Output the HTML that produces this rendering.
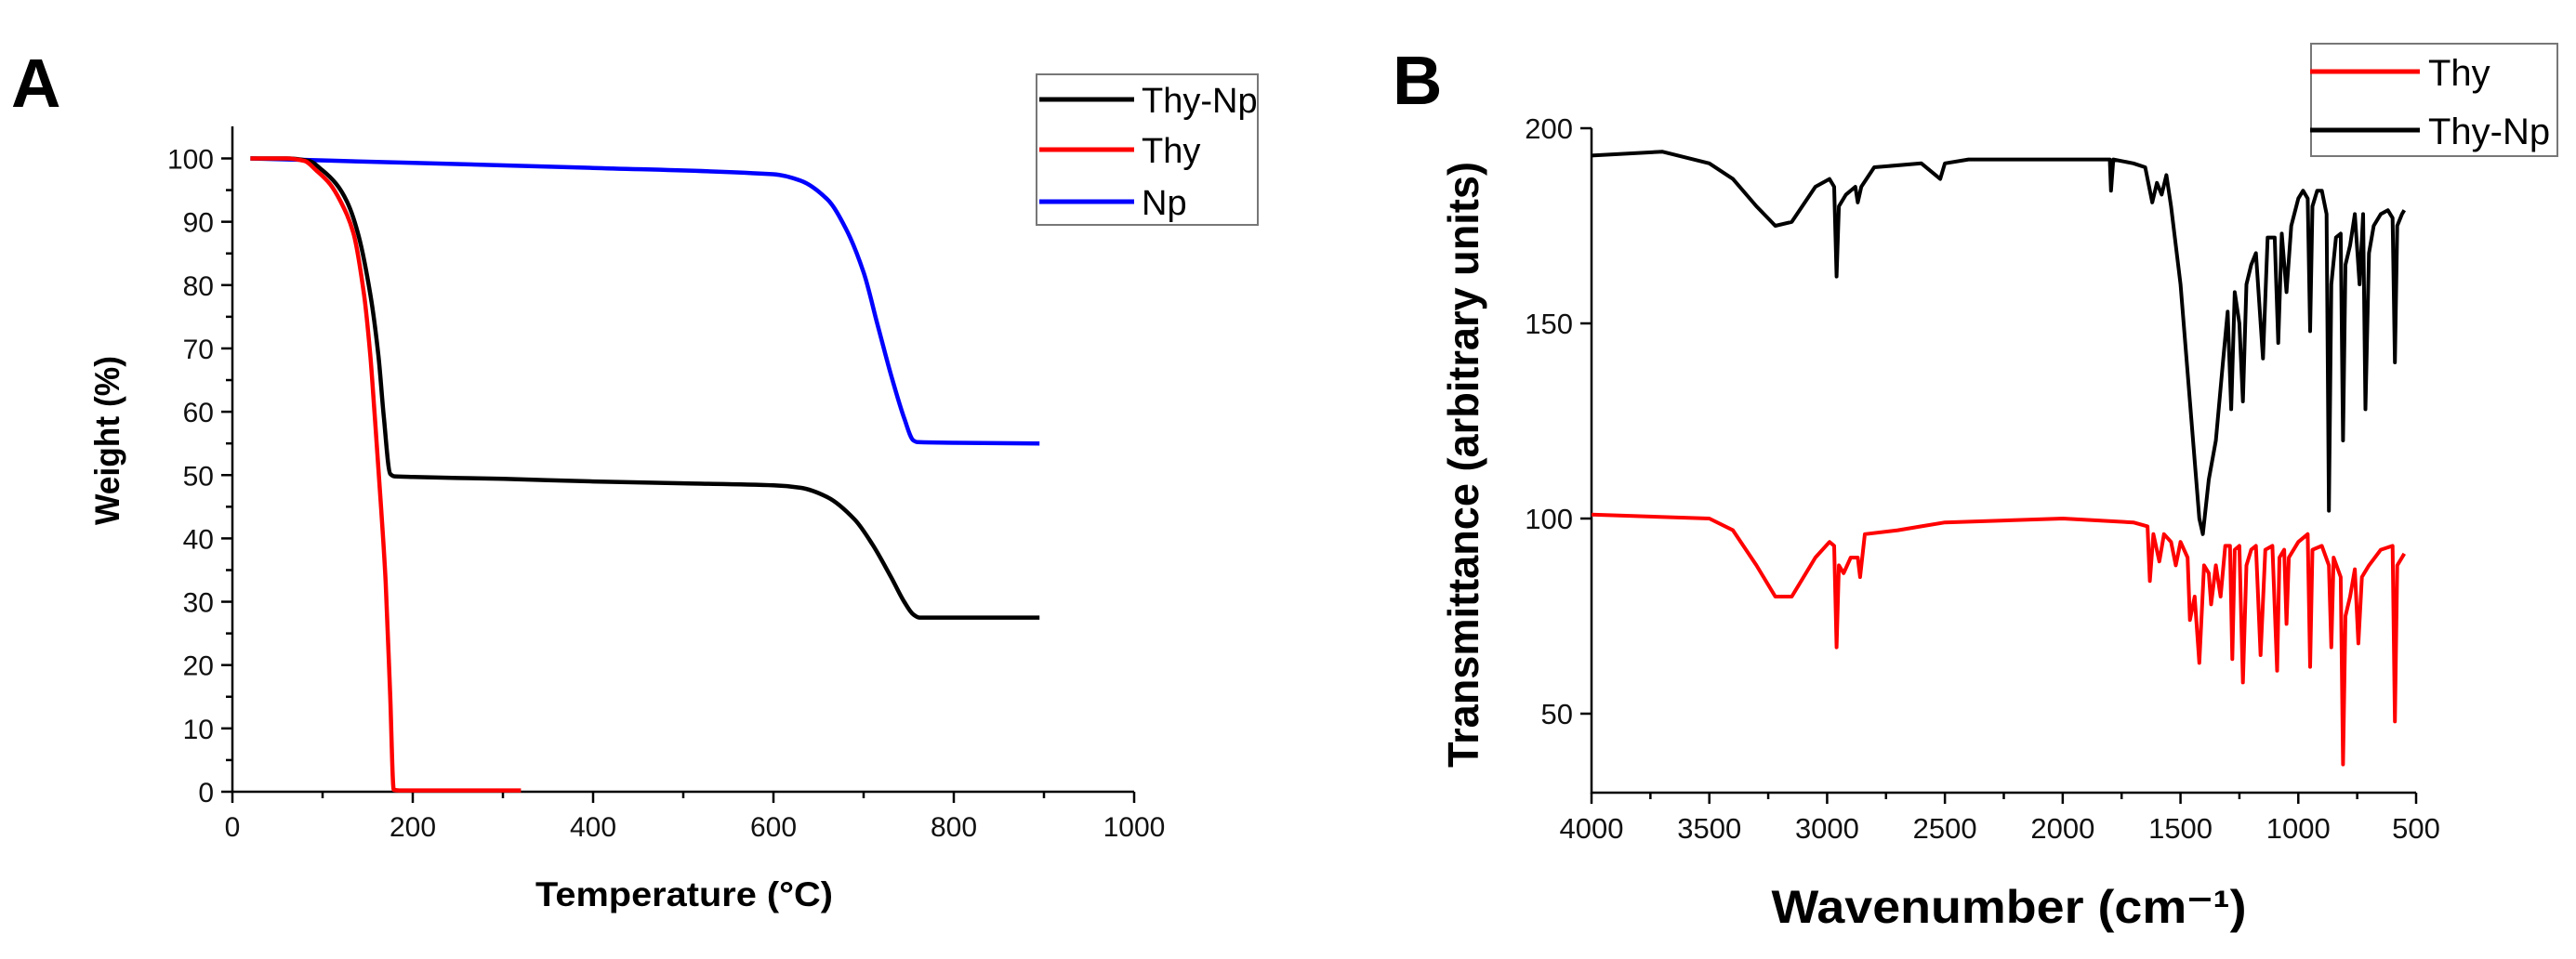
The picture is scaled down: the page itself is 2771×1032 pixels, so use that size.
<!DOCTYPE html>
<html><head><meta charset="utf-8"><style>
html,body{margin:0;padding:0;background:#fff;}
svg{display:block;font-family:"Liberation Sans",sans-serif;}
</style></head><body>
<svg id="fig" width="2771" height="1032" viewBox="0 0 2771 1032" xmlns="http://www.w3.org/2000/svg">
<g id="A"></g>
<g id="B"></g>
</svg>
<script>
// ---- Panel A data (TGA) ----
const tgaTempThyNp = [20,60,85,100,115,127,139,153,162,168,175,180,200,300,400,500,600,630,660,690,710,730,745,755,762,770,895];
const tgaWtThyNp   = [100,100,99.6,98.1,96,93.2,88.3,78.5,68.8,59,50.2,49.8,49.7,49.4,49,48.7,48.4,48,46.5,43,39,34,30,28,27.5,27.5,27.5];
const tgaTempThy = [20,60,80,93,108,120,134,146,153,158,165,170,175,179,185,250,320];
const tgaWtThy   = [100,100,99.6,98.1,96,93.2,88.3,78.5,68.8,59,44.5,33,15,0.3,0.2,0.2,0.2];
const tgaTempNp = [20,200,400,600,630,660,680,700,715,730,745,755,760,800,895];
const tgaWtNp   = [100,99.3,98.5,97.5,96.5,93.5,89,82,74,66,59,55.5,55.2,55.1,55];
const tgaXTicks = [0,200,400,600,800,1000];
const tgaYTicks = [0,10,20,30,40,50,60,70,80,90,100];

// ---- Panel B data (FTIR) ----
const irWnThyNp = [4000,3700,3500,3400,3300,3220,3150,3050,2990,2970,2960,2950,2920,2880,2870,2855,2800,2600,2520,2500,2400,1850,1800,1795,1785,1700,1650,1620,1600,1580,1560,1540,1500,1460,1420,1405,1380,1350,1320,1300,1285,1270,1250,1235,1220,1200,1180,1150,1130,1100,1085,1070,1050,1030,1000,980,960,950,940,920,900,880,870,860,840,820,810,800,780,760,740,725,715,700,680,650,620,600,590,580,560,550];
const irTThyNp  = [193,194,191,187,180,175,176,185,187,185,162,180,183,185,181,185,190,191,187,191,192,192,192,184,192,191,190,181,186,183,188,180,160,130,100,96,110,120,140,153,128,158,150,130,160,165,168,141,172,172,145,173,158,175,182,184,182,148,180,184,184,178,102,160,172,173,120,165,170,178,160,178,128,168,175,178,179,177,140,175,178,179];
const irWnThy = [4000,3500,3400,3300,3220,3150,3050,2990,2970,2960,2950,2930,2900,2870,2860,2840,2700,2600,2500,2000,1700,1640,1630,1615,1590,1570,1540,1520,1500,1470,1460,1440,1420,1400,1380,1370,1350,1330,1310,1290,1280,1270,1250,1235,1220,1200,1180,1160,1140,1110,1090,1080,1060,1050,1040,1000,960,950,940,900,870,860,850,820,810,800,780,760,745,730,700,650,600,590,580,560,550];
const irTThy  = [101,100,97,88,80,80,90,94,93,67,88,86,90,90,85,96,97,98,99,100,99,98,84,96,89,96,94,88,94,90,74,80,63,88,86,78,88,80,93,93,64,92,93,58,88,92,93,65,92,93,61,90,92,73,90,94,96,62,92,93,88,67,90,85,37,75,80,87,68,85,88,92,93,48,88,90,91];
const irXTicks = [4000,3500,3000,2500,2000,1500,1000,500];
const irYTicks = [50,100,150,200];

const NS = "http://www.w3.org/2000/svg";
function mk(parent, tag, attrs, text){
  const e = document.createElementNS(NS, tag);
  for (const k in attrs) e.setAttribute(k, attrs[k]);
  if (text !== undefined) e.textContent = text;
  parent.appendChild(e);
  return e;
}
function pathFrom(xs, ys, sx, sy){
  return xs.map((x,i)=>(i?'L':'M')+sx(x).toFixed(1)+','+sy(ys[i]).toFixed(1)).join(' ');
}
// monotone cubic (Fritsch-Carlson) in pixel space
function smoothPath(xs, ys, sx, sy){
  const X = xs.map(sx), Y = ys.map(sy), n = X.length;
  const d = [], m = new Array(n);
  for (let i=0;i<n-1;i++) d.push((Y[i+1]-Y[i])/(X[i+1]-X[i]));
  m[0]=d[0]; m[n-1]=d[n-2];
  for (let i=1;i<n-1;i++) m[i] = (d[i-1]*d[i]<=0) ? 0 : 2/(1/d[i-1]+1/d[i]);
  let s = 'M'+X[0].toFixed(1)+','+Y[0].toFixed(1);
  for (let i=0;i<n-1;i++){
    const h = X[i+1]-X[i];
    s += ' C'+(X[i]+h/3).toFixed(1)+','+(Y[i]+m[i]*h/3).toFixed(1)+' '+(X[i+1]-h/3).toFixed(1)+','+(Y[i+1]-m[i+1]*h/3).toFixed(1)+' '+X[i+1].toFixed(1)+','+Y[i+1].toFixed(1);
  }
  return s;
}

// ===== Panel A =====
const A = document.getElementById('A');
const ax = v => 250 + (v/1000)*970;
const ay = v => 852 - (v/100)*681.5;
let t;
t = mk(A,'text',{x:12,y:115,'font-size':74,'font-weight':'bold'},'A');
 
let axl = mk(A,'path',{d:`M250,136 L250,852 L1220,852`,stroke:'#000','stroke-width':2.5,fill:'none'});
 
for (let v=0; v<=1000; v+=100){
  const major = tgaXTicks.includes(v);
  const l = mk(A,'line',{x1:ax(v),x2:ax(v),y1:852,y2:852+(major?12:7),stroke:'#000','stroke-width':2.5});
   
}
tgaXTicks.forEach(v=>{
  const e = mk(A,'text',{x:ax(v),y:900,'font-size':30,'text-anchor':'middle',fill:'#111'},String(v));
   
});
for (let v=0; v<=100; v+=5){
  const major = v%10===0;
  const l = mk(A,'line',{x1:250-(major?12:7),x2:250,y1:ay(v),y2:ay(v),stroke:'#000','stroke-width':2.5});
   
}
tgaYTicks.forEach(v=>{
  const e = mk(A,'text',{x:230,y:ay(v)+11,'font-size':30,'text-anchor':'end',fill:'#111'},String(v));
   
});
t = mk(A,'text',{x:736,y:975,'font-size':37,'font-weight':'bold','text-anchor':'middle',textLength:320,lengthAdjust:'spacingAndGlyphs'},'Temperature (°C)');
 
t = mk(A,'text',{x:0,y:0,'font-size':37,'font-weight':'bold','text-anchor':'middle',textLength:182,lengthAdjust:'spacingAndGlyphs',transform:'translate(128,474) rotate(-90)'},'Weight (%)');
 
let p;
p = mk(A,'path',{d:smoothPath(tgaTempNp,tgaWtNp,ax,ay),stroke:'#0000ff','stroke-width':4.5,fill:'none','stroke-linejoin':'round'});
 
p = mk(A,'path',{d:smoothPath(tgaTempThyNp,tgaWtThyNp,ax,ay),stroke:'#000','stroke-width':4.5,fill:'none','stroke-linejoin':'round'});
 
p = mk(A,'path',{d:smoothPath(tgaTempThy,tgaWtThy,ax,ay),stroke:'#ff0000','stroke-width':4.5,fill:'none','stroke-linejoin':'round'});
 
// legend A
const legA = mk(A,'g',{});
 
mk(legA,'rect',{x:1115,y:80,width:238,height:162,fill:'#fff',stroke:'#777','stroke-width':2});
[['Thy-Np','#000',107],['Thy','#ff0000',161],['Np','#0000ff',217]].forEach(([n,c,y])=>{
  const g = mk(legA,'g',{});
   
  mk(g,'line',{x1:1118,x2:1220,y1:y,y2:y,stroke:c,'stroke-width':5});
  mk(g,'text',{x:1228,y:y+14,'font-size':38},n);
});

// ===== Panel B =====
const B = document.getElementById('B');
const bx = v => 1712 + (4000-v)/3500*887;
const by = v => 558 - (v-100)*4.2;
t = mk(B,'text',{x:1498,y:112,'font-size':74,'font-weight':'bold'},'B');
 
axl = mk(B,'path',{d:`M1712,${by(200)} L1712,853 L2599,853`,stroke:'#000','stroke-width':2.5,fill:'none'});
 
for (let v=4000; v>=500; v-=250){
  const major = v%500===0;
  const l = mk(B,'line',{x1:bx(v),x2:bx(v),y1:853,y2:853+(major?12:7),stroke:'#000','stroke-width':2.5});
   
}
irXTicks.forEach(v=>{
  const e = mk(B,'text',{x:bx(v),y:902,'font-size':31,'text-anchor':'middle',fill:'#111'},String(v));
   
});
irYTicks.forEach(v=>{
  const l = mk(B,'line',{x1:1700,x2:1712,y1:by(v),y2:by(v),stroke:'#000','stroke-width':2.5});
   
  const e = mk(B,'text',{x:1692,y:by(v)+11,'font-size':31,'text-anchor':'end',fill:'#111'},String(v));
   
});
t = mk(B,'text',{x:2161,y:993,'font-size':50,'font-weight':'bold','text-anchor':'middle',textLength:511,lengthAdjust:'spacingAndGlyphs'},'Wavenumber (cm\u207B\u00B9)');
 
t = mk(B,'text',{x:0,y:0,'font-size':46,'font-weight':'bold','text-anchor':'middle',textLength:652,lengthAdjust:'spacingAndGlyphs',transform:'translate(1590,500) rotate(-90)'},'Transmittance (arbitrary units)');
 
p = mk(B,'path',{d:pathFrom(irWnThyNp,irTThyNp,bx,by),stroke:'#000','stroke-width':4,fill:'none','stroke-linejoin':'round'});
 
p = mk(B,'path',{d:pathFrom(irWnThy,irTThy,bx,by),stroke:'#ff0000','stroke-width':4,fill:'none','stroke-linejoin':'round'});
 
const legB = mk(B,'g',{});
 
mk(legB,'rect',{x:2486,y:47,width:265,height:121,fill:'#fff',stroke:'#777','stroke-width':2});
[['Thy','#ff0000',77],['Thy-Np','#000',140]].forEach(([n,c,y])=>{
  const g = mk(legB,'g',{});
   
  mk(g,'line',{x1:2485,x2:2603,y1:y,y2:y,stroke:c,'stroke-width':5});
  mk(g,'text',{x:2612,y:y+15,'font-size':40},n);
});
</script>
</body></html>
